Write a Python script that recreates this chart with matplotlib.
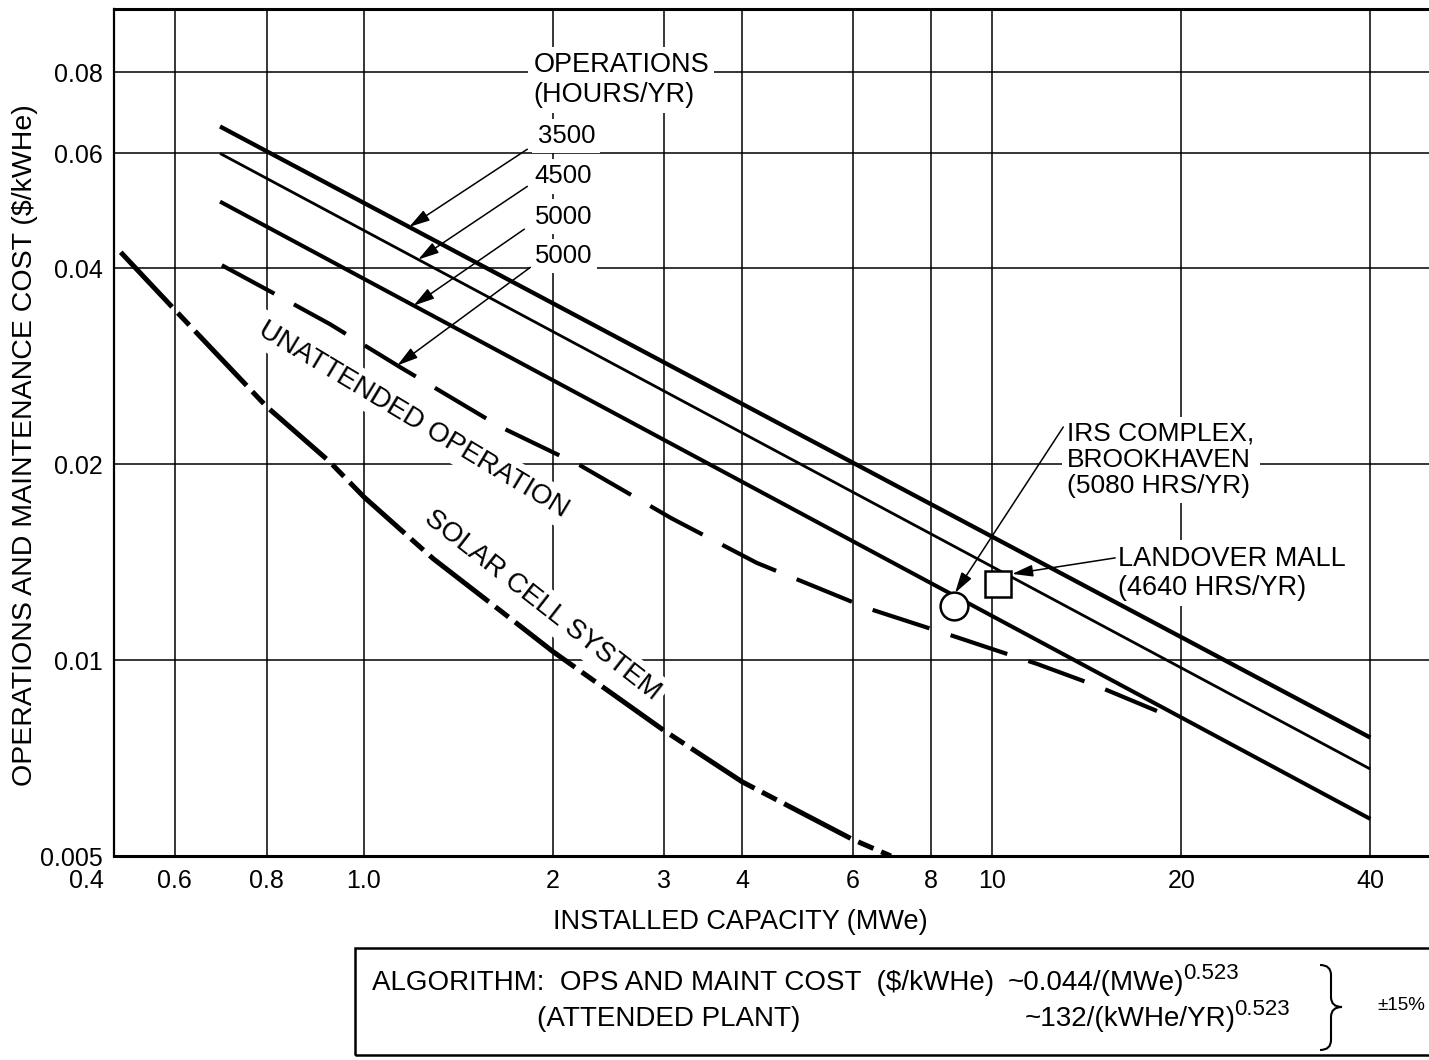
import numpy as np
import matplotlib
matplotlib.use("Agg")
import matplotlib.pyplot as plt
from matplotlib.patches import Rectangle, PathPatch
from matplotlib.path import Path
from matplotlib.ticker import NullLocator
from matplotlib.transforms import ScaledTranslation

plt.rcParams['font.family'] = ['Liberation Sans', 'DejaVu Sans']
plt.rcParams['lines.scale_dashes'] = False

# attended plant, straight lines on log-log paper
att_x = [0.59, 40]
att_3500 = [0.066, 0.0076]
att_4500 = [0.060, 0.0068]
att_5000 = [0.0506, 0.0057]

# unattended operation (5000 hrs/yr), dashed
unatt_x = [0.594, 0.714, 0.883, 1.14, 1.65, 2.21, 3.09, 4.22, 6.35, 8.76, 11.8, 14.7, 18.3]
unatt_y = [0.0404, 0.0367, 0.0328, 0.0282, 0.0228, 0.0199, 0.0165, 0.0141,
           0.0120, 0.01085, 0.00986, 0.00912, 0.00835]

# solar cell system
solar_x = [0.41, 0.5, 0.7, 0.88, 1.0, 1.29, 1.65, 2.0, 3.0, 4.0, 6.0, 6.9]
solar_y = [0.0423, 0.0345, 0.0245, 0.0202, 0.0178, 0.0143, 0.0119, 0.0103,
           0.0078, 0.0065, 0.0053, 0.0050]

# measured plants
irs_pt = (8.7, 0.0121)
landover_pt = (10.2, 0.0131)

xtick_pos = [0.4, 0.5, 0.7, 1, 2, 3, 4, 6, 8, 10, 20, 40]
xtick_labels = ['0.4', '0.6', '0.8', '1.0', '2', '3', '4', '6', '8', '10', '20', '40']
ytick_pos = [0.005, 0.01, 0.02, 0.04, 0.06, 0.08]
ytick_labels = ['0.005', '0.01', '0.02', '0.04', '0.06', '0.08']

W, H = 1429, 1060


def on_line(xs, ys, x):
    # log-log interpolation along a drawn curve
    return 10 ** np.interp(np.log10(x), np.log10(xs), np.log10(ys))


def fx(px):
    return px / W


def fy(py):
    return 1 - py / H


fig = plt.figure(figsize=(W / 100, H / 100), dpi=100)
ax = fig.add_axes([fx(114), fy(856), (W - 114) / W, (856 - 9) / H])
ax.set_xscale('log')
ax.set_yscale('log')
ax.set_xlim(0.4, 49.6)
ax.set_ylim(0.005, 0.1)

ax.set_xticks(xtick_pos)
ax.set_xticklabels(xtick_labels)
ax.set_yticks(ytick_pos)
ax.set_yticklabels(ytick_labels)
ax.xaxis.set_minor_locator(NullLocator())
ax.yaxis.set_minor_locator(NullLocator())
ax.tick_params(axis='both', length=0, labelsize=18)
ax.tick_params(axis='x', pad=9)
ax.tick_params(axis='y', pad=8)
ax.grid(True, color='black', lw=1.1)
ax.set_axisbelow(True)

ax.spines['right'].set_visible(False)
ax.spines['top'].set_linewidth(2.2)
ax.spines['bottom'].set_linewidth(2.2)
ax.spines['left'].set_linewidth(1.6)

# "0.4" sits left of the axis corner
lab = ax.xaxis.get_major_ticks()[0].label1
lab.set_transform(lab.get_transform() + ScaledTranslation(-0.28, 0, fig.dpi_scale_trans))

# curves
ax.plot(att_x, att_3500, color='black', lw=3.1, solid_capstyle='butt', zorder=3)
ax.plot(att_x, att_4500, color='black', lw=2.0, solid_capstyle='butt', zorder=3)
ax.plot(att_x, att_5000, color='black', lw=2.9, solid_capstyle='butt', zorder=3)
ax.plot(unatt_x, unatt_y, color='black', lw=3.0, dashes=(43, 16), zorder=3)
ax.plot(solar_x, solar_y, color='black', lw=3.6, dashes=(54, 6, 12, 6), zorder=3)

ax.plot(*irs_pt, marker='o', ms=20, mfc='white', mec='black', mew=1.8, zorder=6)
ax.plot(*landover_pt, marker='s', ms=19, mfc='white', mec='black', mew=1.8, zorder=6)

white = dict(boxstyle='square,pad=0.2', fc='white', ec='none')
arrow = dict(arrowstyle='-|>,head_length=0.7,head_width=0.2', mutation_scale=18,
             lw=1.1, color='black', shrinkA=0, shrinkB=0)

ax.text(1.86, 0.0778, 'OPERATIONS\n(HOURS/YR)', fontsize=19.5, ha='left', va='center',
        linespacing=1.2, bbox=white, zorder=2)
hour_labels = [('3500', 1.89, 0.0638), ('4500', 1.87, 0.0553),
               ('5000', 1.87, 0.0480), ('5000', 1.87, 0.0417)]
for txt, x, y in hour_labels:
    ax.text(x, y, txt, fontsize=18.5, ha='left', va='center', bbox=white, zorder=2)

arrow_from = [(1.82, 0.0609), (1.82, 0.0534), (1.80, 0.0459), (1.84, 0.0401)]
arrow_tip_x = [1.18, 1.22, 1.20, 1.13]
arrow_curves = [(att_x, att_3500), (att_x, att_4500), (att_x, att_5000), (unatt_x, unatt_y)]
for start, tx, (cx, cy) in zip(arrow_from, arrow_tip_x, arrow_curves):
    ax.annotate('', xy=(tx, on_line(cx, cy, tx)), xytext=start, arrowprops=arrow, zorder=4)

ax.text(1.20, 0.0234, 'UNATTENDED OPERATION', fontsize=20, rotation=-31,
        rotation_mode='anchor', ha='center', va='center', bbox=white, zorder=2)
ax.text(1.92, 0.01215, 'SOLAR CELL SYSTEM', fontsize=20, rotation=-38,
        rotation_mode='anchor', ha='center', va='center', bbox=white, zorder=2)

ax.text(13.16, 0.0203, 'IRS COMPLEX,\nBROOKHAVEN\n(5080 HRS/YR)', fontsize=19,
        ha='left', va='center', linespacing=1.1, bbox=white, zorder=2)
ax.annotate('', xy=(8.73, 0.01268), xytext=(12.98, 0.0228), arrowprops=arrow, zorder=4)

ax.text(15.87, 0.01359, 'LANDOVER MALL\n(4640 HRS/YR)', fontsize=19.5,
        ha='left', va='center', linespacing=1.15, bbox=white, zorder=2)
ax.annotate('', xy=(10.76, 0.01356), xytext=(15.7, 0.01435), arrowprops=arrow, zorder=4)

# axis titles
fig.text(fx(740), fy(922), 'INSTALLED CAPACITY (MWe)', fontsize=19.5, ha='center', va='center')
fig.text(fx(25), fy(445), 'OPERATIONS AND MAINTENANCE COST ($/kWHe)', fontsize=20.5,
         rotation=90, ha='center', va='center')

# algorithm box
fig.add_artist(Rectangle((fx(355), fy(1055)), 1.0, (1055 - 948) / H, transform=fig.transFigure,
                         fill=False, lw=1.8, ec='black'))
fig.text(fx(372), fy(990), 'ALGORITHM:  OPS AND MAINT COST  ($/kWHe)', fontsize=20,
         ha='left', va='baseline')
fig.text(fx(537), fy(1026), '(ATTENDED PLANT)', fontsize=20, ha='left', va='baseline')
formulas = [('~0.044/(MWe)', 1008, 990), ('~132/(kWHe/YR)', 1025, 1026)]
for txt, px, py in formulas:
    t = fig.text(fx(px), fy(py), txt, fontsize=20, ha='left', va='baseline')
    ax.annotate('0.523', xy=(1.0, 0.88), xycoords=t, xytext=(-1, 0), textcoords='offset points',
                fontsize=16, ha='left', va='center', annotation_clip=False)
fig.text(fx(1377), fy(1005), '±15%', fontsize=13.5, ha='left', va='center')

# right brace
bx0, bxm, bx1, r = 1320, 1331, 1342, 10
btop, bmid, bbot = 965, 1007, 1050
verts = [(bx0, btop), (bxm, btop), (bxm, btop + r), (bxm, bmid - r),
         (bxm, bmid), (bx1, bmid), (bxm, bmid), (bxm, bmid + r),
         (bxm, bbot - r), (bxm, bbot), (bx0, bbot)]
codes = [Path.MOVETO, Path.CURVE3, Path.CURVE3, Path.LINETO,
         Path.CURVE3, Path.CURVE3, Path.CURVE3, Path.CURVE3,
         Path.LINETO, Path.CURVE3, Path.CURVE3]
brace = Path([(fx(x), fy(y)) for x, y in verts], codes)
fig.add_artist(PathPatch(brace, transform=fig.transFigure, fill=False, lw=1.5, ec='black'))

fig.savefig('out.png', dpi=100)
